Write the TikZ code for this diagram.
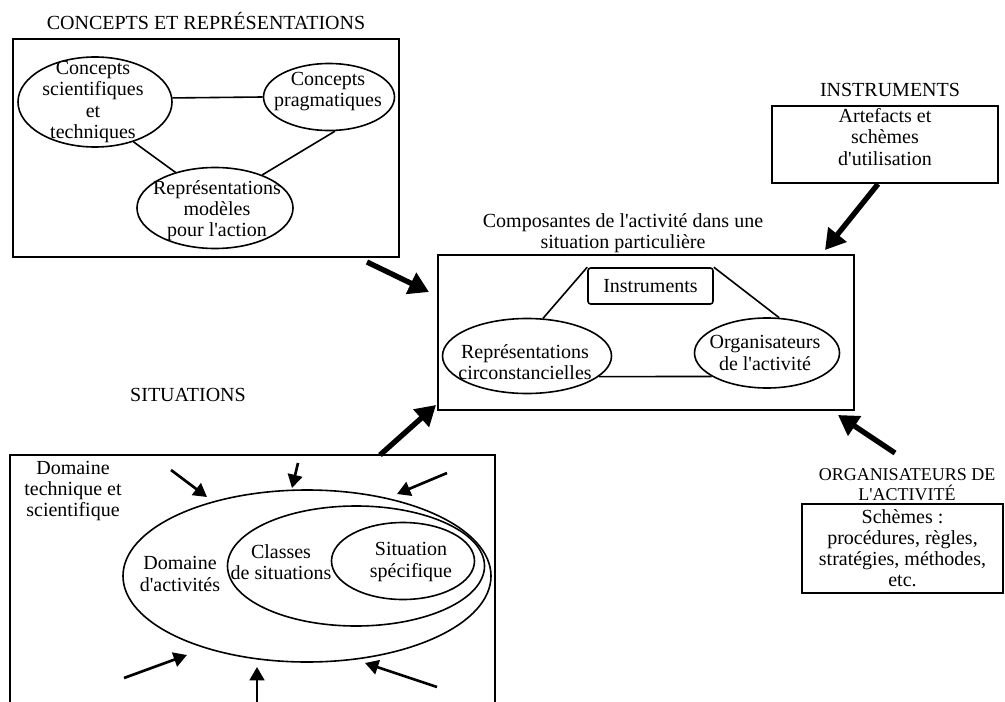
\documentclass[tikz,border=0pt]{standalone}
\usepackage{fontspec}
\setmainfont{Liberation Serif}[Ligatures=TeXOff]
\usetikzlibrary{shapes.geometric,arrows.meta}

\tikzset{
    every node/.style={font=\fontsize{15}{15.8}\selectfont, align=center, inner sep=0pt},
    ell/.style={draw, ellipse, line width=1.2pt},
    boxline/.style={line width=1.5pt},
    link/.style={line width=1.2pt},
    bigarrow/.style={line width=4pt, -{Triangle[length=15pt,width=17pt]}},
    smallarrow/.style={line width=2pt, -{Triangle[length=10pt,width=11pt]}},
    sz/.style 2 args={minimum width=#1*0.75pt, minimum height=#2*0.75pt},
}
\newcommand{\setup}{
    % free ends of the big arrows
    \coordinate (g1) at (367,262);
    \coordinate (h1) at (429,292);
    \coordinate (h2) at (825,250);
    \coordinate (g3) at (895,453);
    \coordinate (h3) at (838,415);
    \coordinate (g4) at (380,455);
    \coordinate (h4) at (436,405);

    % situations frame (open at the bottom)
    \coordinate (s0) at (10,702);
    \coordinate (s1) at (10,455);
    \coordinate (s2) at (495,455);
    \coordinate (s3) at (495,702);

    % small arrows round the domain
    \coordinate (a1) at (171,470);
    \coordinate (t1) at (207,497);
    \coordinate (a2) at (298,463);
    \coordinate (t2) at (292,488);
    \coordinate (a3) at (447,473);
    \coordinate (t3) at (397,494);
    \coordinate (a4) at (124,678);
    \coordinate (t4) at (187,655);
    \coordinate (a5) at (257,702);
    \coordinate (t5) at (257,667);
    \coordinate (a6) at (437,687);
    \coordinate (t6) at (365,663);
}
\newcommand{\ellnode}[6]{
    \node[ell, sz={#3}{#4}] (#1) at (#2) {};
    \node (#1-t) at (#5) {#6};
}

\begin{document}
\begin{tikzpicture}[x=0.75pt,y=-0.75pt]
    \useasboundingbox (0,0) rectangle (1005,702);
    \setup

    % concepts et representations
    \node (concepts-title) at (206,21) {CONCEPTS ET REPRÉSENTATIONS};
    \node[draw, boxline, sz={386}{218}] (concepts) at (206,148) {};
    \ellnode{sci}{95,102}{154}{90}{93,102}{Concepts\\scientifiques\\et\\techniques}
    \ellnode{prag}{329,97}{131}{67}{328,92}{Concepts\\pragmatiques}
    \ellnode{rep}{215,208}{156}{81}{217,211}{Représentations\\modèles\\pour l'action}
    \draw[link] (sci.3) -- (prag.west);
    \draw[link] (sci.-46) -- (rep.138);
    \draw[link] (prag.-80) -- (rep.35);

    % composantes
    \node (comp-title) at (623,233) {Composantes de l'activité dans une\\situation particulière};
    \node[draw, boxline, sz={416}{155}] (comp) at (646,332.5) {};
    \node[draw, link, rounded corners=2pt, sz={125}{36}] (inst) at (650.5,286) {Instruments};
    \ellnode{rc}{527,356}{169}{75}{525,362}{Représentations\\circonstancielles}
    \ellnode{org}{767,353}{145}{70}{765,353}{Organisateurs\\de l'activité}
    \draw[link] (inst.north west) -- (rc.67);
    \draw[link] (inst.north east) -- (org.71);
    \draw[link] (rc.-16) -- (org.-157);

    % instruments
    \node (inst-title) at (890,90) {INSTRUMENTS};
    \node[draw, boxline, sz={226}{77}] (artbox) at (885,144.5) {};
    \node (art) at (885,137) {Artefacts et\\schèmes\\d'utilisation};

    % situations
    \node (sit-title) at (188,395) {SITUATIONS};
    \draw[boxline] (s0) -- (s1) -- (s2) -- (s3);
    \node (tech) at (73,491) {Domaine\\technique et\\scientifique};
    \ellnode{dom}{307,576}{368}{172}{180,574}{Domaine\\d'activités}
    \ellnode{cls}{356,566}{257}{120}{281,562}{Classes\\de situations}
    \ellnode{spec}{403,561}{143}{77}{411,562}{Situation\\spécifique}

    \draw[smallarrow] (a1) -- (t1);
    \draw[smallarrow] (a2) -- (t2);
    \draw[smallarrow] (a3) -- (t3);
    \draw[smallarrow] (a4) -- (t4);
    \draw[smallarrow] (a5) -- (t5);
    \draw[smallarrow] (a6) -- (t6);

    % organisateurs
    \node[font=\fontsize{13.5}{15}\selectfont] (org-title) at (907,485) {ORGANISATEURS DE\\L'ACTIVITÉ};
    \node[draw, boxline, sz={201}{89}] (sch) at (902.5,548.5) {Schèmes :\\procédures, règles,\\stratégies, méthodes,\\etc.};

    % big arrows into the components box
    \draw[bigarrow] (g1) -- (h1);
    \draw[bigarrow] (artbox.-100) -- (h2);
    \draw[bigarrow] (g3) -- (h3);
    \draw[bigarrow] (g4) -- (h4);
\end{tikzpicture}
\end{document}
